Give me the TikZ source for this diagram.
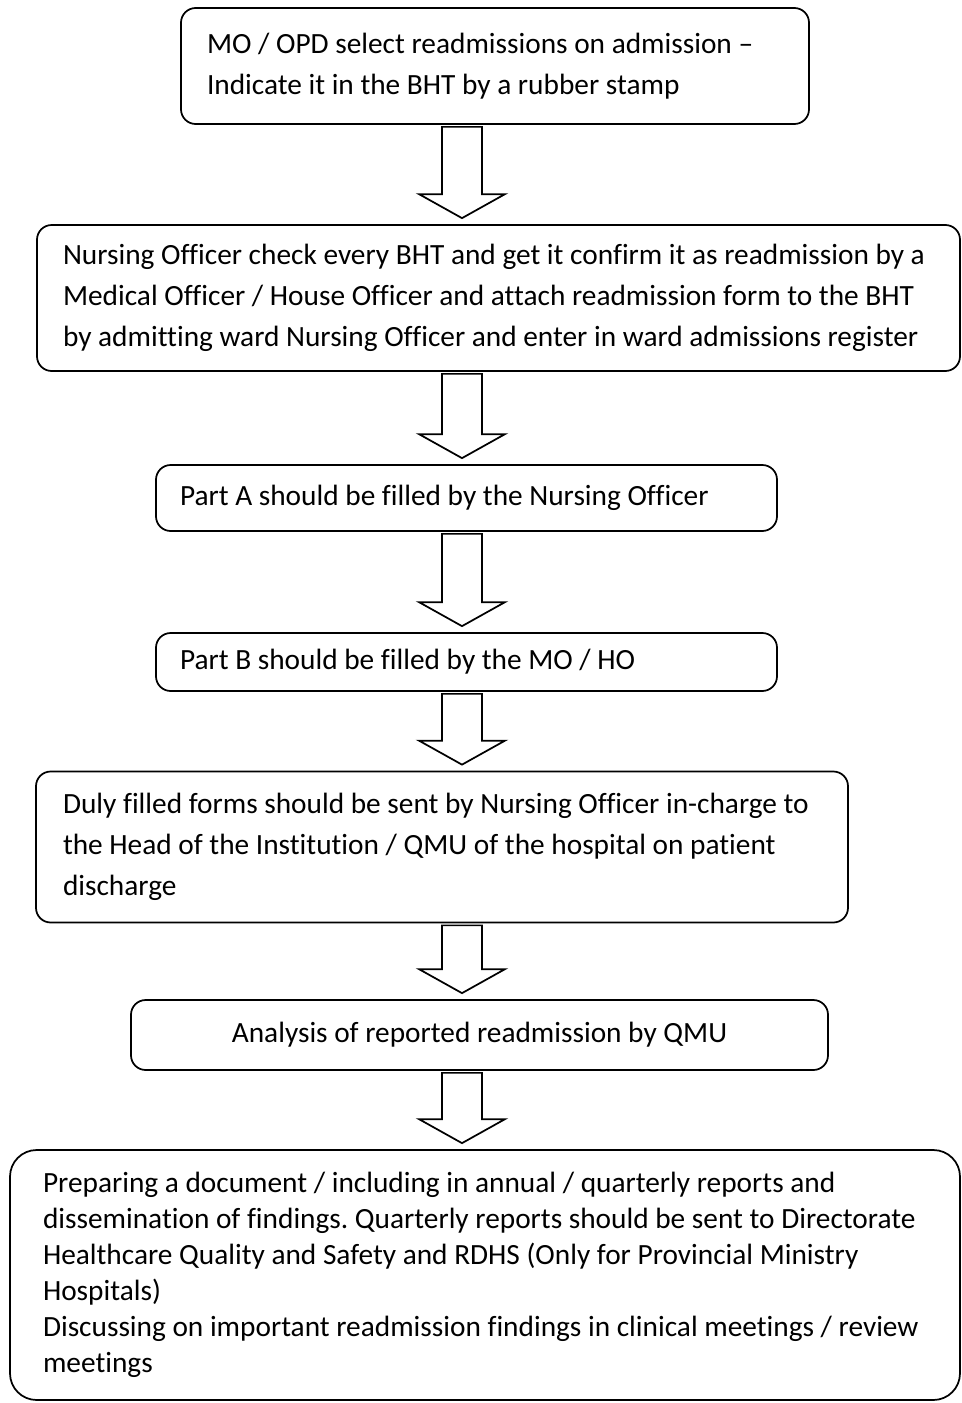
\documentclass[tikz,border=0pt]{standalone}
\usepackage{fontspec}
\setmainfont{Carlito}[Ligatures=NoCommon]
\usetikzlibrary{calc}
\frenchspacing

\begin{document}
\begin{tikzpicture}[x=0.75pt,y=-0.75pt,
    every node/.style={font=\fontsize{22}{30.75}\selectfont},
    box/.style={draw,line width=1.3pt,rounded corners=11pt,align=flush left,
      inner xsep=19.5pt,inner ysep=0pt},
    hollow/.style={draw,line width=1.3pt,line join=miter,
      to path={let \p1=(\tikztostart), \p2=(\tikztotarget) in
        (\x1-15pt,\y1-1.5pt) -- (\x1-15pt,\y2+22.5pt) -- (\x1-32.25pt,\y2+22.5pt)
        -- (\x2,\y2+4.5pt) -- (\x1+32.25pt,\y2+22.5pt) -- (\x1+15pt,\y2+22.5pt)
        -- (\x1+15pt,\y1-1.5pt) -- cycle}}]
  \useasboundingbox (0,0) rectangle (962,1403);
  \coordinate (axis) at (462,0);

  \node[box,text width=432pt,minimum height=87pt] (mo) at (495,66)
    {MO / OPD select readmissions on admission –\\
     Indicate it in the BHT by a rubber stamp};
  \node[box,text width=653.25pt,minimum height=109.5pt] (nurse) at (498.5,298)
    {Nursing Officer check every BHT and get it confirm it as readmission by a\\
     Medical Officer / House Officer and attach readmission form to the BHT\\
     by admitting ward Nursing Officer and enter in ward admissions register};
  \node[box,inner xsep=18pt,text width=429.75pt,minimum height=49.5pt] (parta) at (466.5,498)
    {Part A should be filled by the Nursing Officer};
  \node[box,inner xsep=18pt,text width=429.75pt,minimum height=43.5pt] (partb) at (466.5,662)
    {Part B should be filled by the MO / HO};
  \node[box,inner xsep=20.25pt,text width=568.5pt,minimum height=113.25pt] (sent) at (442,847)
    {Duly filled forms should be sent by Nursing Officer in-charge to\\
     the Head of the Institution / QMU of the hospital on patient\\
     discharge};
  \node[box,align=center,minimum width=522.75pt,minimum height=52.5pt] (qmu) at (479.5,1035)
    {Analysis of reported readmission by QMU};
  \node[box,font=\fontsize{22}{27}\selectfont,rounded corners=20pt,inner xsep=24.75pt,
    text width=663pt,minimum height=187.5pt] (report) at (485,1275)
    {Preparing a document / including in annual / quarterly reports and\\
     dissemination of findings. Quarterly reports should be sent to Directorate\\
     Healthcare Quality and Safety and RDHS (Only for Provincial Ministry\\
     Hospitals)\\
     Discussing on important readmission findings in clinical meetings / review\\
     meetings};

  % block arrows down the chart
  \draw[hollow] (axis |- mo.south) to (axis |- nurse.north);
  \draw[hollow] (axis |- nurse.south) to (axis |- parta.north);
  \draw[hollow] (axis |- parta.south) to (axis |- partb.north);
  \draw[hollow] (axis |- partb.south) to (axis |- sent.north);
  \draw[hollow] (axis |- sent.south) to (axis |- qmu.north);
  \draw[hollow] (axis |- qmu.south) to (axis |- report.north);
\end{tikzpicture}
\end{document}
